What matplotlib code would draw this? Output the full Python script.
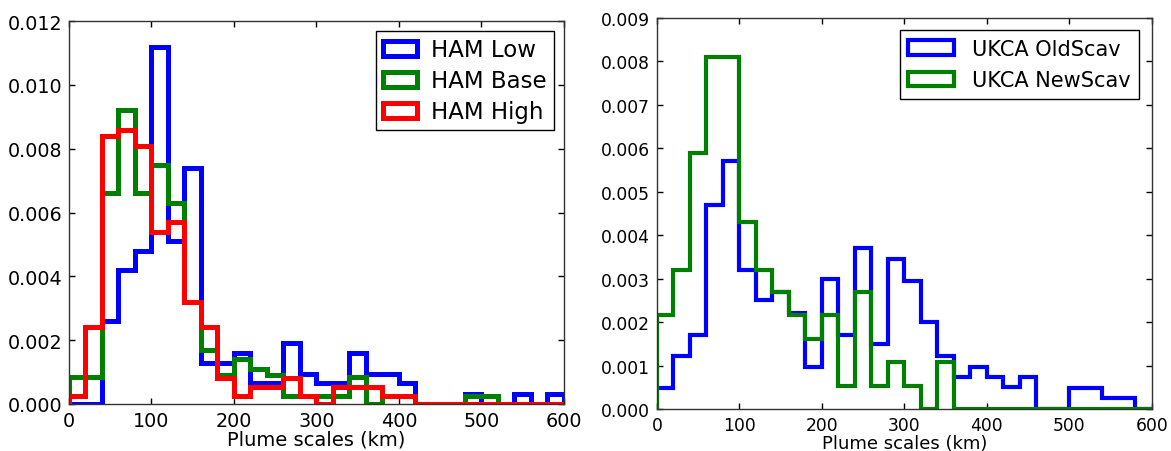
import numpy as np
import matplotlib
matplotlib.use("Agg")
import matplotlib.pyplot as plt

# bin edges (km), 20 km bins
bin_edges = list(range(0, 620, 20))

# Left panel: HAM normalized histograms (density per km), one value per 20-km bin
ham_low = [0.0, 0.0, 0.0026, 0.0042, 0.0048, 0.0112, 0.0051, 0.0074, 0.0013, 0.0013,
           0.0016, 0.00065, 0.00065, 0.0019, 0.00094, 0.00065, 0.00065, 0.0016, 0.00094, 0.00094,
           0.00065, 0.0, 0.0, 0.0, 0.0003, 0.0, 0.0, 0.0003, 0.0, 0.0003]
ham_base = [0.00086, 0.00086, 0.0066, 0.0092, 0.0066, 0.0075, 0.0063, 0.0032, 0.0017, 0.0009,
            0.0014, 0.0011, 0.0009, 0.00026, 0.00026, 0.00026, 0.00026, 0.00086, 0.0, 0.00026,
            0.00026, 0.0, 0.0, 0.0, 0.00026, 0.00026, 0.0, 0.0, 0.0, 0.0]
ham_high = [0.00026, 0.0024, 0.0084, 0.0086, 0.0081, 0.0054, 0.0057, 0.0032, 0.0024, 0.0008,
            0.00026, 0.00054, 0.00054, 0.0008, 0.00026, 0.0, 0.00054, 0.00054, 0.00054, 0.00026,
            0.00026, 0.0, 0.0, 0.0, 0.0, 0.0, 0.0, 0.0, 0.0, 0.0]

# Right panel: UKCA
ukca_old = [0.00048, 0.00123, 0.0017, 0.0047, 0.0057, 0.0032, 0.0025, 0.0027, 0.0022, 0.00097,
            0.0030, 0.0017, 0.0037, 0.0015, 0.00345, 0.00295, 0.0020, 0.00123, 0.00073, 0.00097,
            0.00073, 0.0005, 0.00073, 0.0, 0.0, 0.00048, 0.00048, 0.00025, 0.00025, 0.0]
ukca_new = [0.00216, 0.0032, 0.0059, 0.0081, 0.0081, 0.0043, 0.0032, 0.0027, 0.00216, 0.0016,
            0.00216, 0.00052, 0.0027, 0.00052, 0.00107, 0.00052, 0.0, 0.00107, 0.0, 0.0,
            0.0, 0.0, 0.0, 0.0, 0.0, 0.0, 0.0, 0.0, 0.0, 0.0]

left_labels = ["HAM Low", "HAM Base", "HAM High"]
right_labels = ["UKCA OldScav", "UKCA NewScav"]
xlabel = "Plume scales (km)"

edges = np.array(bin_edges, dtype=float)
centers = 0.5 * (edges[:-1] + edges[1:])

fig = plt.figure(figsize=(11.71, 4.52), dpi=100)
ax1 = fig.add_axes([0.0589, 0.104, 0.4227, 0.847])
ax2 = fig.add_axes([0.561, 0.093, 0.4227, 0.865])

for vals, lab, col in zip([ham_low, ham_base, ham_high], left_labels, ["#0000ff", "#008000", "#ff0000"]):
    ax1.hist(centers, bins=edges, weights=vals, histtype="step", color=col, lw=3.6, label=lab)
for vals, lab, col in zip([ukca_old, ukca_new], right_labels, ["#0000ff", "#008000"]):
    ax2.hist(centers, bins=edges, weights=vals, histtype="step", color=col, lw=3.0, label=lab)

ax1.set_xlim(0, 600)
ax1.set_ylim(0, 0.012)
ax1.set_yticks(np.arange(0, 0.0121, 0.002))
ax1.set_yticklabels(["%.3f" % v for v in np.arange(0, 0.0121, 0.002)])
ax2.set_xlim(0, 600)
ax2.set_ylim(0, 0.009)
ax2.set_yticks(np.arange(0, 0.00901, 0.001))
ax2.set_yticklabels(["%.3f" % v for v in np.arange(0, 0.00901, 0.001)])

for ax, fs, xfs in [(ax1, 13.8, 14), (ax2, 12.3, 13)]:
    ax.set_xticks(range(0, 601, 100))
    ax.tick_params(direction="in", top=True, right=True, length=4, width=1,
                   labelsize=fs, pad=5, colors="#000000")
    for s in ax.spines.values():
        s.set_color("#333333")
        s.set_linewidth(1.0)
    ax.set_xlabel(xlabel, fontsize=xfs, labelpad=0)

leg1 = ax1.legend(loc="upper right", fontsize=16.5, fancybox=False, framealpha=1,
                  edgecolor="black", handlelength=1.5, handleheight=0.6,
                  borderaxespad=0.45, labelspacing=0.35, handletextpad=0.6, borderpad=0.3)
leg1.get_frame().set_linewidth(1.0)
leg2 = ax2.legend(loc="upper right", fontsize=15, fancybox=False, framealpha=1,
                  edgecolor="black", handlelength=2.2, handleheight=0.7,
                  borderaxespad=0.6, labelspacing=0.55, handletextpad=0.9, borderpad=0.4)
leg2.get_frame().set_linewidth(1.0)

fig.savefig("out.png", dpi=100)
